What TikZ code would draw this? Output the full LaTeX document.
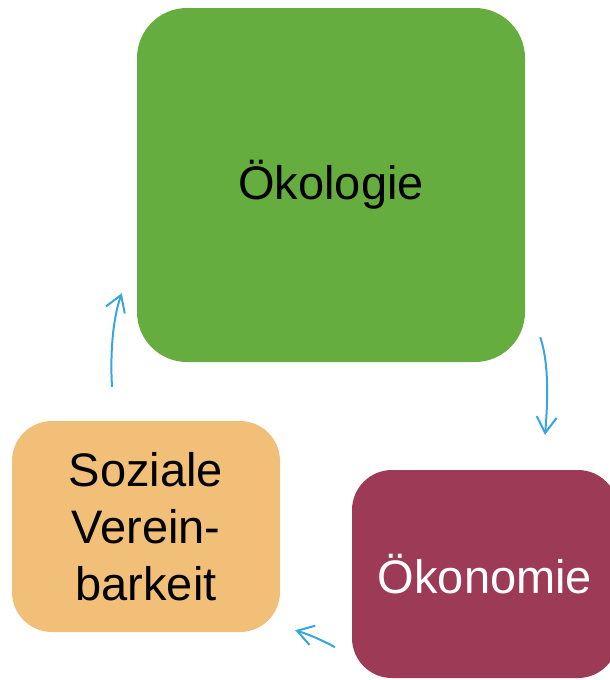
\documentclass[tikz,border=0pt]{standalone}
\usepackage{fontspec}
\setmainfont{Liberation Sans}
\usetikzlibrary{arrows.meta,bending,calc}
\begin{document}
\begin{tikzpicture}[x=1pt, y=-1pt, >={Straight Barb[length=16pt,width=20pt]}, line join=round,
  field/.style={rounded corners=40pt, inner sep=0pt, align=center, font=\fontsize{47}{57}\selectfont},
  flow/.style={->, line width=2pt, flowblue}]
  \definecolor{oekogreen}{HTML}{66AD3F}
  \definecolor{sozorange}{HTML}{F2BF78}
  \definecolor{oekonred}{HTML}{9D3A56}
  \definecolor{flowblue}{HTML}{38A5DD}
  \clip (0,0) rectangle (610,680);
  \node[field, fill=oekogreen, minimum width=388pt, minimum height=354pt, rounded corners=50pt] (oeko) at (331,185) {Ökologie};
  \node[field, fill=sozorange, minimum width=268pt, minimum height=211pt] (sozial) at (146,526.5) {Soziale\\Verein-\\barkeit};
  \node[field, fill=oekonred, text=white, minimum width=266pt, minimum height=208pt] (oekon) at (485,574) {Ökonomie};
  % connectors
  \coordinate (o1) at ($(oeko.south east)+(15,-25)$);
  \coordinate (o2) at ($(oekon.north)+(60,-35)$);
  \coordinate (k1) at ($(oekon.south west)+(-17,-31)$);
  \coordinate (k2) at ($(sozial.south east)+(15,-2)$);
  \coordinate (s1) at ($(sozial.north)+(-34,-34)$);
  \coordinate (s2) at ($(oeko.south west)+(-15,-69)$);
  \draw[flow] (o1) .. controls (549,362) and (548,402) .. (o2);
  \draw[flow] (k1) .. controls (322,640) and (308,634) .. (k2);
  \draw[flow] (s1) .. controls (110,352) and (113,316) .. (s2);
\end{tikzpicture}
\end{document}
